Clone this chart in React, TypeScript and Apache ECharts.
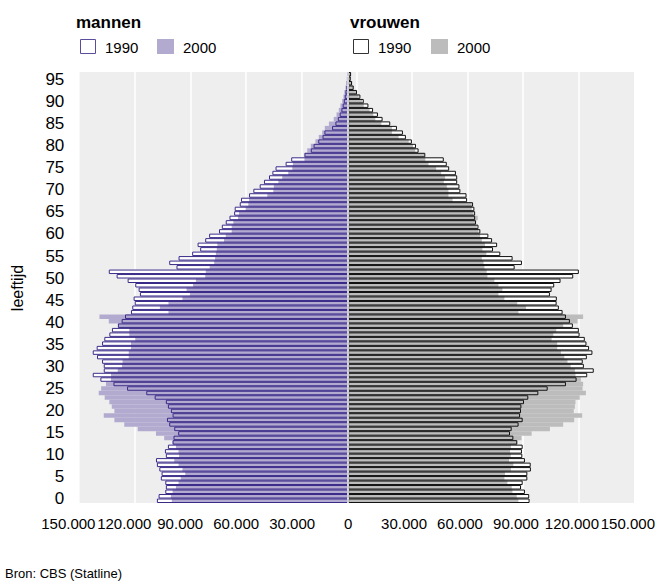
import React, { useEffect, useRef } from "react";
import * as echarts from "echarts";

const FONT = "'Liberation Sans', Arial, sans-serif";

const ages: string[] = Array.from({ length: 96 }, (_, i) => String(i));

// values in thousands, index = age 0..95
const men1990 = [102.5,101.6,98.0,97.7,98.0,100.4,100.0,101.2,102.5,103.0, 97.7,98.2,96.6,94.1,93.6,91.1,93.2,95.9,97.1,94.1, 95.0,96.6,97.7,103.7,108.2,118.5,125.8,132.8,136.9,131.0, 131.0,131.9,134.6,136.9,134.8,131.9,130.7,128.0,126.6,123.4, 121.4,119.6,116.4,115.7,114.4,115.0,111.6,112.3,114.1,118.2, 124.1,128.3,92.0,95.9,90.9,83.6,79.3,80.7,76.6,74.5, 69.2,67.7,65.6,63.6,61.1,60.8,58.1,57.4,53.1,50.8, 47.4,45.1,42.4,40.6,38.9,33.5,30.5,23.4,20.0,18.5, 16.0,13.7,12.7,8.6,6.8,5.5,4.5,3.6,2.9,2.3, 1.8,1.4,0.9,0.5,0.4,0.4];
const men2000 = [94.5,95.0,94.1,92.3,90.9,89.7,87.3,88.8,90.9,93.2, 90.6,90.9,92.3,94.1,98.6,103.0,112.8,120.0,125.3,131.0, 125.3,126.7,128.0,130.5,133.7,132.4,129.8,127.1,127.1,123.5, 121.2,120.9,117.6,117.6,116.4,116.4,114.1,117.3,117.3,123.4, 128.3,133.3,96.3,100.9,96.3,88.8,84.8,86.6,83.1,81.6, 76.6,76.3,74.2,71.8,71.3,70.9,70.4,70.1,66.5,65.6, 62.4,62.4,61.5,59.0,58.5,54.9,53.5,53.1,43.3,40.1, 39.8,37.4,35.3,32.1,29.9,29.6,23.4,23.4,21.9,20.0, 17.5,15.7,13.9,12.5,10.3,7.7,6.2,5.0,4.1,3.2, 2.5,2.0,1.4,1.1,0.7,0.5];
const women1990 = [97.3,97.1,94.8,92.7,93.6,96.1,96.1,98.0,97.9,94.8, 93.4,93.2,93.6,90.7,88.6,86.8,87.7,91.4,93.6,92.2, 92.7,92.9,94.3,96.6,102.0,107.0,116.8,122.5,128.2,131.7, 126.4,125.8,128.0,131.0,129.2,127.8,126.9,124.1,123.7,120.5, 118.9,116.8,115.0,113.0,111.8,111.9,108.2,109.1,110.5,113.9, 120.7,123.7,89.3,93.2,88.2,81.6,77.7,79.9,77.2,75.2, 70.9,69.9,68.6,68.1,68.1,67.7,67.0,63.8,63.5,60.2, 59.7,58.5,58.5,57.8,54.2,52.9,51.3,41.4,37.8,36.4, 34.2,31.0,29.4,26.2,22.6,18.5,16.0,13.4,10.9,8.4, 6.6,4.8,3.0,2.1,1.4,1.6];
const women2000 = [91.3,90.4,88.1,87.7,85.4,83.8,84.1,87.3,88.6,86.3, 87.2,86.8,87.3,90.7,93.0,98.4,108.2,115.3,121.2,125.5, 121.0,121.6,121.9,124.2,127.5,125.7,126.0,124.8,121.9,121.6, 119.3,117.6,115.9,114.1,112.1,112.1,109.1,110.0,111.6,115.3, 123.0,126.0,91.3,95.4,90.7,83.8,80.6,82.7,80.6,78.4, 74.7,74.3,73.1,72.6,71.7,74.1,72.0,73.4,71.7,70.8, 69.9,69.0,68.1,69.5,67.2,66.3,66.3,56.0,53.8,53.8, 52.9,51.3,52.0,49.9,47.2,43.1,41.4,41.0,36.0,34.8, 32.5,27.1,23.5,23.5,17.8,14.6,13.5,11.5,8.4,7.5, 5.7,4.3,3.0,2.3,1.6,1.4];

const C_MEN_LINE = "#3a2a88";
const C_MEN_FILL = "#b3aad0";
const C_WOM_LINE = "#111111";
const C_WOM_FILL = "#bcbcbc";

function bar(name: string, data: number[], style: any, extra: any = {}) {
  return {
    name,
    type: "bar",
    xAxisIndex: 1,
    yAxisIndex: 1,
    barGap: "-100%",
    barCategoryGap: "0%",
    silent: true,
    data,
    itemStyle: style,
    ...extra,
  };
}

export default function App() {
  const ref = useRef<HTMLDivElement>(null);
  useEffect(() => {
    if (!ref.current) return;
    const chart = echarts.init(ref.current, undefined, { renderer: "svg" });
    const neg = (a: number[]) => a.map((v) => -v);
    const fmt = (v: number) => (v === 0 ? "0" : Math.abs(v) + ".000");
    chart.setOption({
      animation: false,
      backgroundColor: "#ffffff",
      textStyle: { fontFamily: FONT },
      grid: [
        { left: 79.6, top: 72, width: 554.4, height: 431, show: true, backgroundColor: "#eeeeee", borderWidth: 0 },
        { left: 68.3, top: 72, width: 562, height: 431 },
        { left: 68.3, top: 77.1, width: 562, height: 424.1 },
      ],
      xAxis: [
        {
          gridIndex: 0, type: "value", min: 0, max: 10, interval: 1,
          axisLine: { show: false }, axisTick: { show: false }, axisLabel: { show: false },
          splitLine: { show: true, showMinLine: false, showMaxLine: false, lineStyle: { color: "#ffffff", width: 1.5 } },
        },
        {
          gridIndex: 1, type: "value", min: -150, max: 150, interval: 30,
          axisLine: { show: false }, axisTick: { show: false }, splitLine: { show: false },
          axisLabel: { formatter: fmt, color: "#000", fontSize: 15, margin: 13, fontFamily: FONT, showMinLabel: true, showMaxLabel: true, hideOverlap: false },
        },
        { gridIndex: 2, type: "value", min: -150, max: 150, show: false },
      ],
      yAxis: [
        { gridIndex: 0, type: "value", show: false },
        {
          gridIndex: 1, type: "category", data: ages,
          axisLine: { show: false }, axisTick: { show: false }, splitLine: { show: false },
          axisLabel: { show: false },
        },
        {
          gridIndex: 2, type: "category", data: ages,
          axisLine: { show: false }, axisTick: { show: false }, splitLine: { show: false },
          axisLabel: { interval: 4, color: "#000", fontSize: 17, margin: 4, fontFamily: FONT },
        },
      ],
      series: [
        bar("mannen 1990 vlak", neg(men1990), { color: "#ffffff" }),
        bar("mannen 2000", neg(men2000), { color: C_MEN_FILL }),
        bar("mannen 1990", neg(men1990), { color: "rgba(0,0,0,0)", borderColor: C_MEN_LINE, borderWidth: 1 }),
        bar("vrouwen 1990 vlak", women1990, { color: "#ffffff" }),
        bar("vrouwen 2000", women2000, { color: C_WOM_FILL }),
        bar("vrouwen 1990", women1990, { color: "rgba(0,0,0,0)", borderColor: C_WOM_LINE, borderWidth: 1 }, {
          markLine: {
            silent: true, symbol: "none", label: { show: false },
            lineStyle: { color: "#ffffff", width: 1.5, type: "solid" },
            data: [{ xAxis: 0 }],
          },
        }),
      ],
      graphic: [
        { type: "text", x: 76, y: 22, style: { text: "mannen", font: `bold 17px ${FONT}`, fill: "#000", verticalAlign: "middle" } },
        { type: "rect", shape: { x: 80.5, y: 39.5, width: 15, height: 14 }, style: { fill: "#ffffff", stroke: "#5b4c9c", lineWidth: 1 } },
        { type: "text", x: 105, y: 47, style: { text: "1990", font: `15px ${FONT}`, fill: "#000", verticalAlign: "middle" } },
        { type: "rect", shape: { x: 157, y: 39, width: 17, height: 15 }, style: { fill: C_MEN_FILL } },
        { type: "text", x: 183, y: 47, style: { text: "2000", font: `15px ${FONT}`, fill: "#000", verticalAlign: "middle" } },
        { type: "text", x: 350, y: 22, style: { text: "vrouwen", font: `bold 17px ${FONT}`, fill: "#000", verticalAlign: "middle" } },
        { type: "rect", shape: { x: 353.5, y: 39.5, width: 15, height: 14 }, style: { fill: "#ffffff", stroke: "#333333", lineWidth: 1 } },
        { type: "text", x: 378, y: 47, style: { text: "1990", font: `15px ${FONT}`, fill: "#000", verticalAlign: "middle" } },
        { type: "rect", shape: { x: 431, y: 39, width: 17, height: 15 }, style: { fill: C_WOM_FILL } },
        { type: "text", x: 457, y: 47, style: { text: "2000", font: `15px ${FONT}`, fill: "#000", verticalAlign: "middle" } },
        { type: "text", x: 17, y: 288, rotation: Math.PI / 2, style: { text: "leeftijd", font: `16px ${FONT}`, fill: "#000", align: "center", verticalAlign: "middle" } },
        { type: "text", x: 5, y: 573, style: { text: "Bron: CBS (Statline)", font: `13px ${FONT}`, fill: "#000", verticalAlign: "middle" } },
      ],
    });
    return () => chart.dispose();
  }, []);
  return <div ref={ref} style={{ position: "fixed", left: 0, top: 0, width: 658, height: 584 }} />;
}
